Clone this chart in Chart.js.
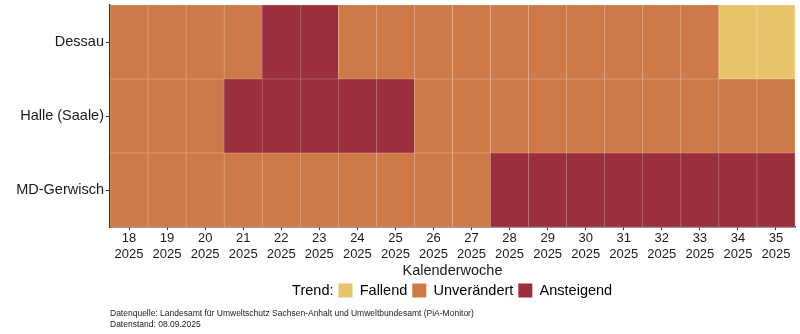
<!DOCTYPE html>
<html lang="de">
<head>
<meta charset="UTF-8">
<title>Trend Kalenderwoche</title>
<script src="https://cdn.jsdelivr.net/npm/chart.js@4.4.1/dist/chart.umd.min.js"></script>
<style>
  html, body { margin: 0; padding: 0; background: #fff; }
  #wrap { width: 800px; height: 334px; }
</style>
</head>
<body>
<div id="wrap"><canvas id="heat"></canvas></div>
<script>
// Kalenderwochen 2025
const weeks = [18, 19, 20, 21, 22, 23, 24, 25, 26, 27, 28, 29, 30, 31, 32, 33, 34, 35];
const year = '2025';

// Standorte von oben nach unten
const stations = ['Dessau', 'Halle (Saale)', 'MD-Gerwisch'];

// Trend je Woche: F = Fallend, U = Unverändert, A = Ansteigend
const dessau = ['U','U','U','U','A','A','U','U','U','U','U','U','U','U','U','U','F','F'];
const halle  = ['U','U','U','A','A','A','A','A','U','U','U','U','U','U','U','U','U','U'];
const gerwisch = ['U','U','U','U','U','U','U','U','U','U','A','A','A','A','A','A','A','A'];

const trendNames = { F: 'Fallend', U: 'Unverändert', A: 'Ansteigend' };
const trendColors = { F: '#E8C56B', U: '#CD7A48', A: '#9B2F3E' };
const lineColors = { F: '#F3DFAA', U: '#E6B393', A: '#C27983' };

// stacked bars: first dataset at the bottom
const rows = [gerwisch, halle, dessau];
const rowNames = [stations[2], stations[1], stations[0]];

const datasets = rows.map((r, i) => ({
  label: rowNames[i],
  data: r.map(() => 1),
  backgroundColor: c => trendColors[rows[c.datasetIndex][c.dataIndex]],
  borderColor: c => lineColors[rows[c.datasetIndex][c.dataIndex]],
  borderWidth: 0.6,
  borderSkipped: false,
  barPercentage: 1,
  categoryPercentage: 1
}));

const axisColor = '#333';
const font = 'Liberation Sans, Arial, sans-serif';

// legend has an empty box in front of "Trend:", pull it back a bit
const legendShift = {
  id: 'legendShift',
  afterLayout(chart) {
    const lg = chart.legend;
    if (lg) { lg.left -= 11; lg.right -= 11; }
  }
};

new Chart(document.getElementById('heat'), {
  type: 'bar',
  data: {
    labels: weeks.map(w => [String(w), year]),
    datasets: datasets
  },
  plugins: [legendShift],
  options: {
    responsive: true,
    maintainAspectRatio: false,
    animation: false,
    layout: { padding: { top: 5, right: 5, left: 0, bottom: 4.5 } },
    scales: {
      x: {
        stacked: true,
        grid: { drawOnChartArea: false, offset: false, color: axisColor, tickLength: 3 },
        border: { color: axisColor, width: 1.5 },
        ticks: { color: '#1a1a1a', font: { family: font, size: 13 }, padding: 1, maxRotation: 0, autoSkip: false },
        title: { display: true, text: 'Kalenderwoche', color: '#1a1a1a', font: { family: font, size: 14.5, lineHeight: 1.0 }, padding: { top: 0.5, bottom: 0 } }
      },
      y: {
        stacked: true,
        min: 0,
        max: 3,
        afterBuildTicks: s => { s.ticks = [0.5, 1.5, 2.5].map(v => ({ value: v })); },
        afterFit: s => { s.width = 110; s.paddingTop = 0; s.paddingBottom = 0; },
        grid: { drawOnChartArea: false, color: axisColor, tickLength: 4 },
        border: { color: axisColor, width: 1.5 },
        ticks: {
          color: '#1a1a1a',
          font: { family: font, size: 14.5 },
          padding: 2,
          callback: v => rowNames[Math.floor(v)]
        }
      }
    },
    plugins: {
      tooltip: { enabled: false },
      legend: {
        position: 'bottom',
        fullSize: false,
        onClick: null,
        labels: {
          color: '#1a1a1a',
          font: { family: font, size: 14.5 },
          boxWidth: 14,
          boxHeight: 14,
          padding: 5,
          generateLabels: () => [
            { text: 'Trend:', fillStyle: 'rgba(0,0,0,0)', strokeStyle: 'rgba(0,0,0,0)', lineWidth: 0 }
          ].concat(['F', 'U', 'A'].map(k => ({
            text: trendNames[k], fillStyle: trendColors[k], strokeStyle: trendColors[k], lineWidth: 0
          })))
        }
      },
      subtitle: {
        display: true,
        position: 'bottom',
        align: 'start',
        fullSize: false,
        color: '#1a1a1a',
        font: { family: font, size: 8.5, lineHeight: 1.25 },
        padding: { top: 0.5, bottom: 0 },
        text: [
          'Datenquelle: Landesamt für Umweltschutz Sachsen-Anhalt und Umweltbundesamt (PiA-Monitor)',
          'Datenstand: 08.09.2025'
        ]
      }
    }
  }
});
</script>
</body>
</html>
